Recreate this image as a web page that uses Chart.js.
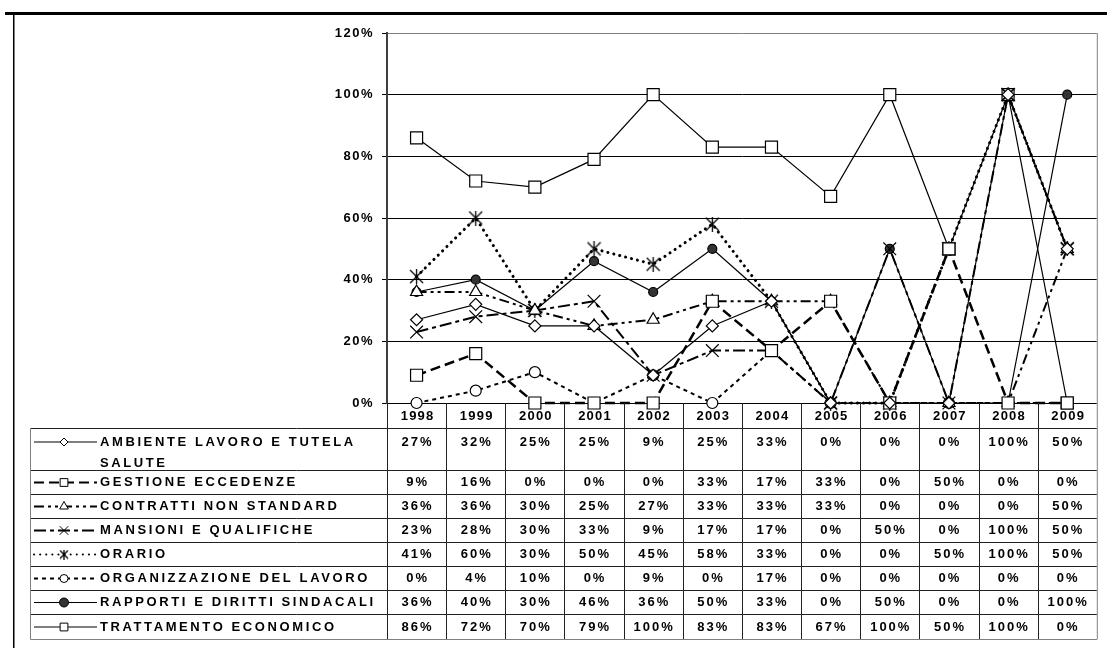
<!DOCTYPE html>
<html>
<head>
<meta charset="utf-8">
<script src="https://cdn.jsdelivr.net/npm/chart.js@4/dist/chart.umd.min.js"></script>
<style>
    html, body { margin: 0; padding: 0; background: #fff; overflow: hidden; }
    canvas { display: block; }
</style>
</head>
<body>
<canvas id="chart" width="1107" height="649"></canvas>
<script>
const years = ['1998', '1999', '2000', '2001', '2002', '2003', '2004', '2005', '2006', '2007', '2008', '2009'];
const yTicks = [0, 20, 40, 60, 80, 100, 120];

const seriesNames = [
    'AMBIENTE LAVORO E TUTELA SALUTE',
    'GESTIONE ECCEDENZE',
    'CONTRATTI NON STANDARD',
    'MANSIONI E QUALIFICHE',
    'ORARIO',
    'ORGANIZZAZIONE DEL LAVORO',
    'RAPPORTI E DIRITTI SINDACALI',
    'TRATTAMENTO ECONOMICO'
];

const ambiente       = [27, 32, 25, 25, 9, 25, 33, 0, 0, 0, 100, 50];
const gestione       = [9, 16, 0, 0, 0, 33, 17, 33, 0, 50, 0, 0];
const contratti      = [36, 36, 30, 25, 27, 33, 33, 33, 0, 0, 0, 50];
const mansioni       = [23, 28, 30, 33, 9, 17, 17, 0, 50, 0, 100, 50];
const orario         = [41, 60, 30, 50, 45, 58, 33, 0, 0, 50, 100, 50];
const organizzazione = [0, 4, 10, 0, 9, 0, 17, 0, 0, 0, 0, 0];
const rapporti       = [36, 40, 30, 46, 36, 50, 33, 0, 50, 0, 0, 100];
const trattamento    = [86, 72, 70, 79, 100, 83, 83, 67, 100, 50, 100, 0];

const seriesValues = [ambiente, gestione, contratti, mansioni, orario, organizzazione, rapporti, trattamento];

// Excel-like asterisk marker: an X with a vertical bar
function makeAsterisk(size) {
    const c = document.createElement('canvas');
    c.width = size;
    c.height = size;
    const g = c.getContext('2d');
    const m = 1, s = size - 1;
    g.strokeStyle = '#000';
    g.lineWidth = 1.3;
    g.beginPath();
    g.moveTo(m, m); g.lineTo(s, s);
    g.moveTo(s, m); g.lineTo(m, s);
    g.moveTo(size / 2, 0); g.lineTo(size / 2, size);
    g.stroke();
    return c;
}
const starBig = makeAsterisk(15);
const starSmall = makeAsterisk(10);

// Line / marker looks, one per series
const looks = [
    { dash: [], width: 1.2, cap: 'butt', point: 'rectRot', lpoint: 'rectRot', r: 6, lr: 4, fill: '#fff' },
    { dash: [10, 5], width: 2.5, cap: 'butt', point: 'rect', lpoint: 'rect', r: 8.5, lr: 5.5, fill: '#fff' },
    { dash: [10, 4, 3, 4, 3, 4], width: 2, cap: 'butt', point: 'triangle', lpoint: 'triangle', r: 7, lr: 5, fill: '#fff' },
    { dash: [12, 4, 4, 4], width: 2, cap: 'butt', point: 'crossRot', lpoint: 'crossRot', r: 9, lr: 6, fill: '#fff' },
    { dash: [0.1, 6], width: 3, cap: 'round', point: starBig, lpoint: starSmall, r: 9, lr: 6, fill: '#fff' },
    { dash: [4, 4], width: 2, cap: 'butt', point: 'circle', lpoint: 'circle', r: 5.5, lr: 4, fill: '#fff' },
    { dash: [], width: 1.2, cap: 'butt', point: 'circle', lpoint: 'circle', r: 4.5, lr: 4.5, fill: '#333' },
    { dash: [], width: 1.2, cap: 'butt', point: 'rect', lpoint: 'rect', r: 8.5, lr: 5.5, fill: '#fff' }
];

const FAMILY = '"Liberation Sans", Arial, sans-serif';
const FONT = 'bold 13px ' + FAMILY;
const GRID_GRAY = '#808080';

// Geometry of the data table under the plot
const headerTop = 403;
const rowTops = [428, 470, 494, 518, 542, 566, 590, 614];
const tableBottom = 639;
const tableLeft = 30;

function wrapText(ctx, text, maxWidth) {
    const words = text.split(' ');
    const lines = [];
    let line = '';
    words.forEach(w => {
        const test = line ? line + ' ' + w : w;
        if (line && ctx.measureText(test).width > maxWidth) {
            lines.push(line);
            line = w;
        } else {
            line = test;
        }
    });
    if (line) lines.push(line);
    return lines;
}

const spacingPlugin = {
    id: 'spacing',
    beforeDraw(chart) {
        chart.ctx.letterSpacing = '1.5px';
    }
};

const tablePlugin = {
    id: 'dataTable',
    afterDraw(chart) {
        const ctx = chart.ctx;
        const xs = chart.scales.x;
        const area = chart.chartArea;
        const colW = (area.right - area.left) / years.length;

        ctx.save();
        ctx.setLineDash([]);

        // page frame
        ctx.fillStyle = '#000';
        ctx.fillRect(5, 12, 1102, 3);
        ctx.fillRect(13, 15, 1.5, 633);

        // plot right border
        ctx.strokeStyle = GRID_GRAY;
        ctx.lineWidth = 1;
        ctx.beginPath();
        ctx.moveTo(area.right + 0.5, area.top);
        ctx.lineTo(area.right + 0.5, tableBottom);
        ctx.stroke();

        // internal table lines
        ctx.strokeStyle = '#222';
        ctx.beginPath();
        for (let i = 1; i < years.length; i++) {
            const x = Math.round(area.left + i * colW) + 0.5;
            ctx.moveTo(x, headerTop);
            ctx.lineTo(x, tableBottom);
        }
        ctx.moveTo(area.left + 0.5, headerTop);
        ctx.lineTo(area.left + 0.5, tableBottom);
        rowTops.forEach(y => {
            ctx.moveTo(tableLeft, y + 0.5);
            ctx.lineTo(area.right, y + 0.5);
        });
        ctx.stroke();

        // outer table border (gray)
        ctx.strokeStyle = GRID_GRAY;
        ctx.beginPath();
        ctx.moveTo(tableLeft + 0.5, rowTops[0]);
        ctx.lineTo(tableLeft + 0.5, tableBottom + 0.5);
        ctx.lineTo(area.right + 0.5, tableBottom + 0.5);
        ctx.stroke();

        // header years
        ctx.font = FONT;
        ctx.letterSpacing = '1.2px';
        ctx.fillStyle = '#000';
        ctx.textAlign = 'center';
        ctx.textBaseline = 'middle';
        years.forEach((yr, i) => {
            ctx.fillText(yr, xs.getPixelForValue(i) + 1, (headerTop + rowTops[0]) / 2 + 1);
        });

        // rows
        seriesNames.forEach((name, s) => {
            const top = rowTops[s];
            const bottom = s + 1 < rowTops.length ? rowTops[s + 1] : tableBottom;
            const cy = s === 0 ? top + 14 : (top + bottom) / 2 + 0.5;
            const look = looks[s];

            // values
            ctx.letterSpacing = '2px';
            ctx.textAlign = 'center';
            ctx.fillStyle = '#000';
            seriesValues[s].forEach((v, i) => {
                ctx.fillText(v + '%', xs.getPixelForValue(i) + 1, cy);
            });

            // legend sample line
            ctx.strokeStyle = '#000';
            ctx.lineWidth = Math.min(look.width, 2);
            ctx.lineCap = look.cap;
            ctx.setLineDash(look.dash);
            ctx.beginPath();
            ctx.moveTo(34, cy);
            ctx.lineTo(97, cy);
            ctx.stroke();
            ctx.setLineDash([]);
            ctx.lineCap = 'butt';
            ctx.lineWidth = 1;
            ctx.fillStyle = look.fill;
            Chart.helpers.drawPoint(ctx, { pointStyle: look.lpoint, radius: look.lr, borderWidth: 1, rotation: 0 }, 64, cy);

            // legend text
            ctx.letterSpacing = '2.6px';
            ctx.textAlign = 'left';
            ctx.fillStyle = '#000';
            const lines = wrapText(ctx, name, 282);
            lines.forEach((ln, k) => {
                ctx.fillText(ln, 100, cy + k * 21);
            });
        });

        ctx.restore();
    }
};

const datasets = seriesNames.map((name, i) => ({
    label: name,
    data: seriesValues[i],
    borderColor: '#000',
    borderWidth: looks[i].width,
    borderDash: looks[i].dash,
    borderCapStyle: looks[i].cap,
    pointStyle: looks[i].point,
    pointRadius: looks[i].r,
    pointBorderWidth: 1.2,
    pointBorderColor: '#000',
    pointBackgroundColor: looks[i].fill,
    tension: 0,
    fill: false,
    clip: false
}));

new Chart(document.getElementById('chart'), {
    type: 'line',
    data: { labels: years, datasets: datasets },
    options: {
        responsive: false,
        animation: false,
        events: [],
        layout: { padding: { top: 33, right: 6, bottom: 246, left: 0 } },
        scales: {
            x: {
                display: false,
                offset: true
            },
            y: {
                min: 0,
                max: 120,
                afterBuildTicks: scale => {
                    scale.ticks = yTicks.map(v => ({ value: v }));
                },
                afterFit: scale => {
                    scale.width = 387;
                },
                border: { display: true, color: '#404040', width: 2 },
                grid: {
                    color: ctx => (ctx.tick && ctx.tick.value === 120 ? GRID_GRAY : '#000'),
                    lineWidth: 1,
                    drawTicks: true,
                    tickLength: 5,
                    tickColor: '#000'
                },
                ticks: {
                    color: '#000',
                    padding: 8,
                    font: { family: FAMILY, size: 13, weight: 'bold' },
                    callback: v => v + '%'
                }
            }
        },
        plugins: {
            legend: { display: false },
            tooltip: { enabled: false }
        }
    },
    plugins: [spacingPlugin, tablePlugin]
});
</script>
</body>
</html>
